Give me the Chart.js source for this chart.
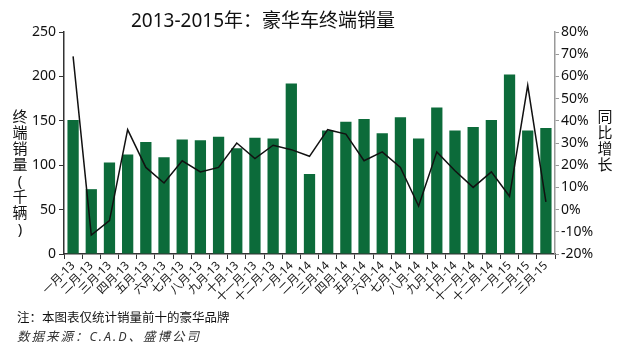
<!DOCTYPE html>
<html>
<head>
<meta charset="utf-8">
<script src="https://cdn.jsdelivr.net/npm/chart.js@4"></script>
<style>
  body { margin: 0; background: #fff; }
  #wrap { position: relative; width: 640px; height: 356px; font-family: "Noto Sans", "Noto Sans CJK SC", sans-serif; color: #111; }
  #salesChart { position: absolute; left: 0; top: 0; }
  .title { position: absolute; left: 131px; top: 5px; font-size: 19px; white-space: nowrap; }
  .vtitle { position: absolute; font-size: 15px; line-height: 16px; width: 16px; text-align: center; }
  .note { position: absolute; left: 17px; font-size: 12.5px; white-space: nowrap; }
</style>
</head>
<body>
<div id="wrap">
  <canvas id="salesChart" width="640" height="356"></canvas>
  <div class="title">2013-2015年：豪华车终端销量</div>
  <div class="vtitle" style="left:12px; top:108px;">终<br>端<br>销<br>量<br>(<br>千<br>辆<br>)</div>
  <div class="vtitle" style="left:597px; top:108px;">同<br>比<br>增<br>长</div>
  <div class="note" style="top:307px;">注：本图表仅统计销量前十的豪华品牌</div>
  <div class="note" style="top:326px; font-style:italic; letter-spacing:2px; color:#333;">数据来源：C.A.D、盛博公司</div>
</div>
<script>
// months on the x axis
var months = ['一月-13','二月-13','三月-13','四月-13','五月-13','六月-13','七月-13','八月-13','九月-13','十月-13','十一月-13','十二月-13',
              '一月-14','二月-14','三月-14','四月-14','五月-14','六月-14','七月-14','八月-14','九月-14','十月-14','十一月-14','十二月-14',
              '一月-15','二月-15','三月-15'];

// terminal sales, thousand units
var sales = [151, 73, 103, 112, 126, 109, 129, 128, 132, 119, 131, 130,
             192, 90, 139, 149, 152, 136, 154, 130, 165, 139, 143, 151,
             202, 139, 142];

// year-on-year growth, %
var growth = [69, -11.5, -5, 36, 19, 12, 22, 17, 19, 30, 23, 29,
              27, 24, 36, 34, 22, 26, 19, 1.6, 26, 17.5, 10, 17,
              6, 56, 3.5];

var salesTicks = [0, 50, 100, 150, 200, 250];

var txt = '#111';
var fontFam = '"Noto Sans", "Noto Sans CJK SC", sans-serif';

var ctx = document.getElementById('salesChart').getContext('2d');
var chart = new Chart(ctx, {
    type: 'bar',
    data: {
        labels: months,
        datasets: [
            {
                type: 'line',
                data: growth,
                yAxisID: 'yRight',
                borderColor: '#111',
                borderWidth: 1.5,
                pointRadius: 0,
                tension: 0,
                order: 0
            },
            {
                data: sales,
                yAxisID: 'yLeft',
                backgroundColor: '#0c6b3a',
                barPercentage: 0.62,
                categoryPercentage: 1,
                order: 1
            }
        ]
    },
    options: {
        responsive: false,
        animation: false,
        layout: { padding: { top: 32, left: 0, right: 0, bottom: 0 } },
        plugins: {
            legend: { display: false },
            tooltip: { enabled: false }
        },
        scales: {
            x: {
                grid: { display: true, drawOnChartArea: false, drawTicks: true, tickLength: 5, color: '#333', offset: true },
                border: { display: true, color: '#333', width: 1.5 },
                ticks: { color: txt, font: { family: fontFam, size: 11.5 }, minRotation: 45, maxRotation: 45, autoSkip: false, padding: 0 },
                afterFit: function(s) { s.height = 102; }
            },
            yLeft: {
                position: 'left',
                min: 0, max: 250,
                afterBuildTicks: function(s) { s.ticks = salesTicks.map(function(v) { return { value: v }; }); },
                grid: { display: true, drawOnChartArea: false, drawTicks: true, tickLength: 5, color: '#333' },
                border: { display: true, color: '#333', width: 1.5 },
                ticks: { color: txt, font: { family: fontFam, size: 14 }, padding: 3 },
                afterFit: function(s) { s.width = 64; }
            },
            yRight: {
                position: 'right',
                min: -20, max: 80,
                grid: { display: true, drawOnChartArea: false, drawTicks: true, tickLength: 4, color: '#999' },
                border: { display: true, color: '#999', width: 1.5 },
                ticks: { stepSize: 10, color: txt, font: { family: fontFam, size: 14 }, padding: 2,
                         callback: function(v) { return v + '%'; } },
                afterFit: function(s) { s.width = 85; }
            }
        }
    }
});
</script>
</body>
</html>
